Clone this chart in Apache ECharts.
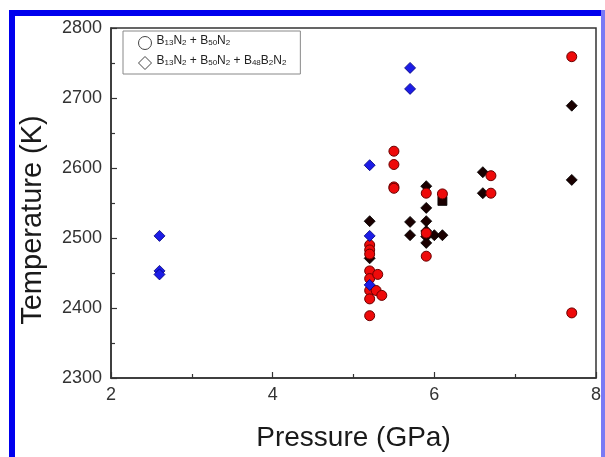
<!DOCTYPE html>
<html><head><meta charset="utf-8">
<script src="https://cdn.jsdelivr.net/npm/echarts@6/dist/echarts.min.js"></script>
<style>html,body{margin:0;padding:0;background:#fff}#c{width:605px;height:457px}</style>
</head><body><div id="c"></div>
<script>
const xTicks = [2, 4, 6, 8];
const yTicks = [2300, 2400, 2500, 2600, 2700, 2800];
const redCircles = [
  [5.2,2490],[5.2,2483],[5.2,2477],[5.2,2453],[5.2,2442],[5.2,2425],[5.2,2413],[5.2,2389],
  [5.3,2448],[5.28,2425],[5.35,2418],
  [5.5,2624],[5.5,2605],[5.5,2573],[5.5,2571],
  [5.9,2564],[5.9,2507],[5.9,2474],
  [6.1,2563],
  [6.7,2589],[6.7,2564],
  [7.7,2759],[7.7,2393]
];
const blackDiamonds = [
  [5.2,2524],[5.2,2471],
  [5.7,2523],[5.7,2504],
  [5.9,2574],[5.9,2543],[5.9,2524],[5.9,2510],[5.9,2502],[5.9,2493],
  [6.0,2504],[6.1,2504],
  [6.6,2594],[6.6,2564],
  [7.7,2689],[7.7,2583]
];
const blackSquares = [[6.1,2553]];
const blueDiamonds = [
  [2.6,2503],[2.6,2453],[2.6,2448],
  [5.2,2604],[5.2,2503],[5.2,2433],
  [5.7,2743],[5.7,2713]
];
const seriesNames = ['B13N2 + B50N2', 'B13N2 + B50N2 + B48B2N2'];
const richLabels = {
  'B13N2 + B50N2': '{n|B}{s|13}{n|N}{s|2}{n| + B}{s|50}{n|N}{s|2}',
  'B13N2 + B50N2 + B48B2N2': '{n|B}{s|13}{n|N}{s|2}{n| + B}{s|50}{n|N}{s|2}{n| + B}{s|48}{n|B}{s|2}{n|N}{s|2}'
};

const chart = echarts.init(document.getElementById('c'));
const font = 'Liberation Sans, Arial, sans-serif';
const axisCommon = {
  axisLine: {show: true, lineStyle: {color: '#333', width: 1.5}},
  axisTick: {show: true, inside: true, length: 6, lineStyle: {color: '#333', width: 1.2}},
  minorTick: {show: true, splitNumber: 2, length: 4, lineStyle: {color: '#333', width: 1.2}},
  splitLine: {show: false},
  axisLabel: {color: '#333', fontSize: 18, fontFamily: font, formatter: function (v) { return String(v); }},
  nameTextStyle: {color: '#1a1a1a', fontSize: 28, fontFamily: font}
};
chart.setOption({
  animation: false,
  backgroundColor: '#fff',
  grid: {left: 111, right: 9, top: 28, bottom: 72, show: true, borderColor: '#333', borderWidth: 1.5, containLabel: false},
  graphic: [
    {type: 'rect', shape: {x: 9, y: 10, width: 6, height: 447}, style: {fill: '#0000ee'}, silent: true},
    {type: 'rect', shape: {x: 9, y: 10, width: 596, height: 6}, style: {fill: '#0000ee'}, silent: true},
    {type: 'rect', shape: {x: 601, y: 10, width: 4, height: 447}, style: {fill: '#7a7af5'}, silent: true}
  ],
  xAxis: Object.assign({}, axisCommon, {
    type: 'value', min: xTicks[0], max: xTicks[xTicks.length - 1], interval: 2,
    name: 'Pressure (GPa)', nameLocation: 'middle', nameGap: 46,
    axisLabel: Object.assign({}, axisCommon.axisLabel, {margin: 8})
  }),
  yAxis: Object.assign({}, axisCommon, {
    type: 'value', min: yTicks[0], max: yTicks[yTicks.length - 1], interval: 100,
    name: 'Temperature (K)', nameLocation: 'middle', nameGap: 64,
    nameTextStyle: Object.assign({}, axisCommon.nameTextStyle, {fontSize: 29, padding: [0, 34, 0, 0]}),
    axisLabel: Object.assign({}, axisCommon.axisLabel, {margin: 9})
  }),
  legend: {
    data: seriesNames, orient: 'vertical', left: 123, top: 31,
    padding: [4, 14, 4, 15], itemGap: 5, itemWidth: 13, itemHeight: 13,
    borderColor: '#888', borderWidth: 1, backgroundColor: '#fff',
    itemStyle: {color: '#fff', borderColor: '#444', borderWidth: 1},
    formatter: function (name) { return richLabels[name]; },
    textStyle: {
      color: '#222',
      rich: {
        n: {fontSize: 12, fontFamily: font, color: '#222', padding: [0, 0, 4, 0]},
        s: {fontSize: 8, fontFamily: font, color: '#222'}
      }
    }
  },
  series: [
    {name: seriesNames[1], type: 'scatter', data: blackDiamonds, symbol: 'diamond', symbolSize: 11,
     itemStyle: {color: '#1a0000', borderColor: '#000', borderWidth: 0.8, opacity: 1}, z: 2},
    {name: 'sq', type: 'scatter', data: blackSquares, symbol: 'rect', symbolSize: 9,
     itemStyle: {color: '#1a0000', borderColor: '#000', borderWidth: 0.8, opacity: 1}, z: 2},
    {name: seriesNames[0], type: 'scatter', data: redCircles, symbol: 'circle', symbolSize: 10,
     itemStyle: {color: '#ee0a0a', borderColor: '#6a0000', borderWidth: 1, opacity: 1}, z: 3},
    {name: 'blue', type: 'scatter', data: blueDiamonds, symbol: 'diamond', symbolSize: 11,
     itemStyle: {color: '#1c1ce6', borderColor: '#00007a', borderWidth: 0.8, opacity: 1}, z: 4}
  ]
});
</script></body></html>
